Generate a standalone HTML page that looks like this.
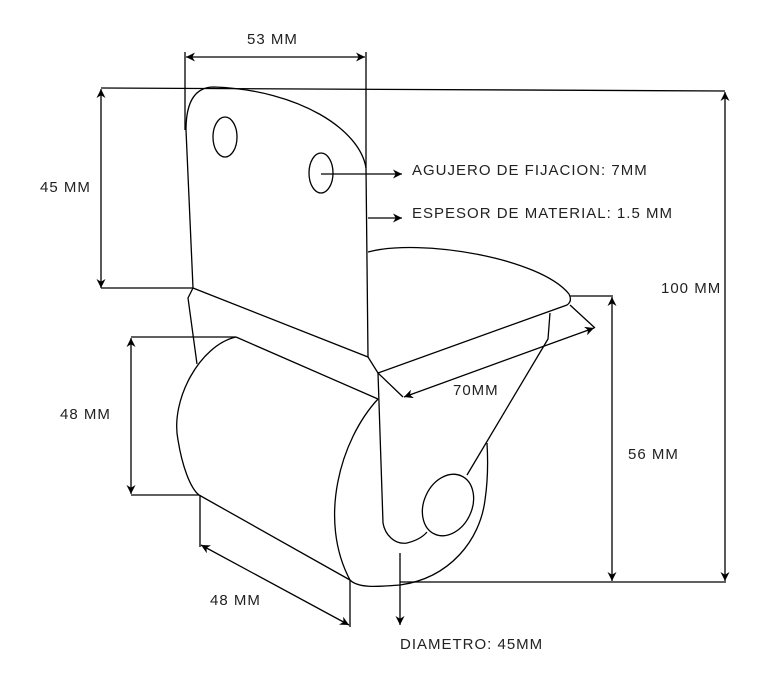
<!DOCTYPE html>
<html><head><style>
html,body{margin:0;padding:0;background:#fff;}
svg{display:block;}
text{font-family:"Liberation Sans",sans-serif;font-size:15px;letter-spacing:1px;fill:#222;}
</style></head><body>
<svg width="766" height="686" viewBox="0 0 766 686" xmlns="http://www.w3.org/2000/svg">
<defs>
<marker id="a" viewBox="0 0 10 10" refX="10" refY="5" markerWidth="9" markerHeight="9" orient="auto-start-reverse" markerUnits="userSpaceOnUse">
<path d="M0,0 L10,5 L0,10 L3,5 z" fill="#000"/></marker>
</defs>
<g fill="none" stroke="#000" stroke-width="1.3">
<!-- plate -->
<path d="M193,288 L186,130 C186,100 196,87 214,87 C300,90 360,130 366,168 L368,357 Z"/>
<ellipse cx="225" cy="137" rx="12" ry="20"/>
<ellipse cx="321" cy="173" rx="12" ry="20"/>
<path d="M193,288 L188,298 L197,364"/>
<path d="M368,357 L378,373"/>
<!-- top platform -->
<path d="M368,252 C420,238 540,258 569,294 C572,300 570,303 567,305 L378,373"/>
<path d="M550,313 L548,339 L467,475"/>
<!-- back wheel -->
<path d="M236,337 C200,345 170,400 178,440 C182,465 190,488 199,495"/>
<path d="M236,337 L378,399"/>
<path d="M199,495 L350,580"/>
<!-- front wheel -->
<path d="M378,399 C340,440 318,520 350,580 C358,588 375,587 400,585 C450,578 480,540 485,500 C488,480 488,460 487,443"/>
<!-- fork leg -->
<path d="M378,373 L383,523 C385,535 395,545 407,543 C415,541 422,538 427,532"/>
<ellipse cx="448" cy="505" rx="24" ry="32" transform="rotate(25 448 505)"/>
<!-- dimension lines -->
<path d="M185,52 L185,130 M366,52 L366,168"/>
<path d="M186,57 L365,57" marker-start="url(#a)" marker-end="url(#a)"/>
<path d="M101,88 L725,91"/>
<path d="M101,89 L101,288" marker-start="url(#a)" marker-end="url(#a)"/>
<path d="M101,288 L193,288"/>
<path d="M725,92 L725,581" marker-start="url(#a)" marker-end="url(#a)"/>
<path d="M400,582 L726,582"/>
<path d="M570,296 L613,296"/>
<path d="M612,297 L612,581" marker-start="url(#a)" marker-end="url(#a)"/>
<path d="M131,337 L236,337 M131,495 L199,495"/>
<path d="M131,338 L131,494" marker-start="url(#a)" marker-end="url(#a)"/>
<path d="M200,495 L200,547 M350,580 L350,627"/>
<path d="M201,545 L349,625" marker-start="url(#a)" marker-end="url(#a)"/>
<path d="M378,373 L403,397 M570,305 L595,328"/>
<path d="M404,397 L594,328" marker-start="url(#a)" marker-end="url(#a)"/>
<path d="M400,553 L400,625" marker-end="url(#a)"/>
<path d="M321,174 L402,174" marker-end="url(#a)"/>
<path d="M368,218 L402,218" marker-end="url(#a)"/>
</g>
<text x="247" y="44">53 MM</text>
<text x="40" y="192">45 MM</text>
<text x="412" y="175">AGUJERO DE FIJACION: 7MM</text>
<text x="412" y="218">ESPESOR DE MATERIAL: 1.5 MM</text>
<text x="661" y="293">100 MM</text>
<text x="453" y="395">70MM</text>
<text x="60" y="419">48 MM</text>
<text x="628" y="459">56 MM</text>
<text x="210" y="605">48 MM</text>
<text x="400" y="649">DIAMETRO: 45MM</text>
</svg>
</body></html>
